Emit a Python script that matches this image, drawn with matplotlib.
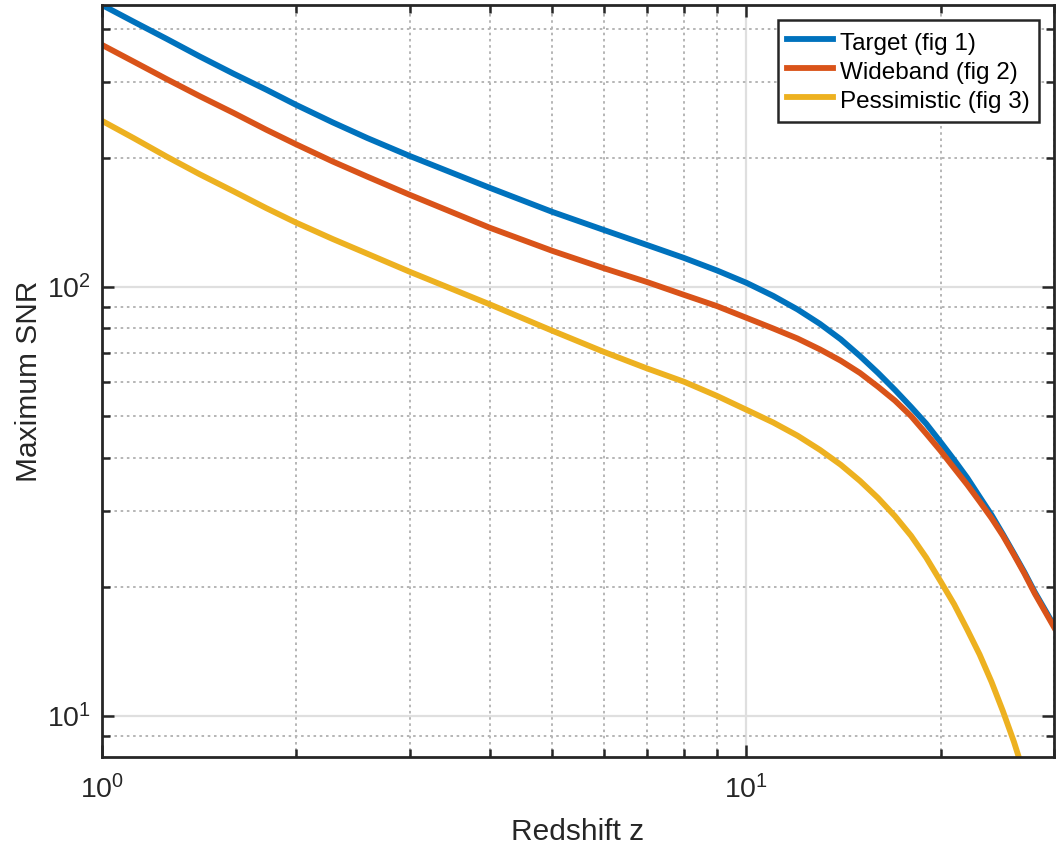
import numpy as np
import matplotlib.pyplot as plt
from matplotlib.ticker import NullFormatter

plt.rcParams['font.family'] = ['Liberation Sans', 'DejaVu Sans']
plt.rcParams['mathtext.fontset'] = 'custom'
plt.rcParams['mathtext.rm'] = 'Liberation Sans'
plt.rcParams['mathtext.it'] = 'Liberation Sans:italic'

# redshift samples and peak SNR for each detector configuration
z = [1, 1.12, 1.26, 1.42, 1.6, 1.8, 2, 2.28, 2.58, 3, 4, 5, 6, 7, 8, 9, 10,
     11, 12, 13, 14, 15, 16, 17, 18, 19, 20, 21, 22, 23, 24, 25, 26, 27, 28, 29, 30]
snr_target = [454, 415, 378.5, 344, 314, 288, 265.7, 241.8, 222.3, 202, 170.1,
              149.5, 135.8, 125.3, 116.8, 109.2, 102.2,
              95.3, 88.6, 82.0, 75.5, 69, 63, 57.5, 52.5, 48, 43.5, 39.5, 35.9,
              32.4, 29.4, 26.5, 23.9, 21.6, 19.45, 17.75, 16.25]
snr_wideband = [366.5, 335, 305, 278, 254.4, 232.3, 215, 196, 180.7, 164, 137.3,
                121.3, 110.6, 102.7, 95.8, 90.2, 84.7,
                80, 75.8, 71.5, 67.3, 63, 58.5, 54.3, 50, 45.5, 41.5, 37.8, 34.6,
                31.6, 28.9, 26.3, 23.75, 21.45, 19.3, 17.6, 16.1]

z_pess = [1, 1.12, 1.26, 1.42, 1.6, 1.8, 2, 2.28, 2.58, 3, 4, 5, 6, 7, 8, 9, 10,
          11, 12, 13, 14, 15, 16, 17, 18, 19, 20, 21, 22, 23, 24, 25, 26, 26.45]
snr_pess = [243.8, 222.2, 201.2, 182.8, 167.0, 152.5, 141.2, 129.3, 119.5, 108.5,
            91.0, 79.0, 70.6, 64.6, 60.1, 55.7, 51.7,
            48.3, 45, 41.7, 38.5, 35.3, 32.2, 29.2, 26.3, 23.4, 20.6, 18.2, 15.9,
            13.9, 12.0, 10.25, 8.7, 8.02]

labels = ['Target (fig 1)', 'Wideband (fig 2)', 'Pessimistic (fig 3)']
colors = ['#0072BD', '#D95319', '#EDB120']
dark = '#262626'

fig = plt.figure(figsize=(10.56, 8.5), dpi=100)
ax = fig.add_axes([102/1056, 93/850, 952/1056, 752/850])

ax.loglog(z, snr_target, color=colors[0], lw=4.2, label=labels[0])
ax.loglog(z, snr_wideband, color=colors[1], lw=4.2, label=labels[1])
ax.loglog(z_pess, snr_pess, color=colors[2], lw=4.2, label=labels[2])

ax.set_xlim(1, 30)
ax.set_ylim(8.02, 454)

ax.set_axisbelow(True)
ax.grid(True, which='major', color='#dfdfdf', lw=1.6, ls='-')
ax.grid(True, which='minor', color='#b5b5b5', lw=1.4, ls=(0, (1.3, 1.9)))

ax.xaxis.set_minor_formatter(NullFormatter())
ax.yaxis.set_minor_formatter(NullFormatter())
ax.tick_params(which='both', direction='in', top=True, right=True,
               width=1.8, color=dark, labelcolor=dark, labelsize=20.5)
ax.tick_params(which='major', length=8.5)
ax.tick_params(which='minor', length=5.5)
ax.tick_params(axis='x', pad=13)
ax.tick_params(axis='y', pad=8)
for s in ax.spines.values():
    s.set_linewidth(2.0)
    s.set_color(dark)

ax.set_xlabel('Redshift z', fontsize=21.5, color=dark, labelpad=10)
ax.set_ylabel('Maximum SNR', fontsize=21.5, color=dark, labelpad=3)

leg = ax.legend(loc='upper right', bbox_to_anchor=(1039/1056, 1 - 20/850),
                bbox_transform=fig.transFigure, borderaxespad=0,
                fontsize=17.5, fancybox=False, framealpha=1, edgecolor=dark,
                handlelength=1.9, handletextpad=0.3, handleheight=1.2,
                labelspacing=0.14, borderpad=0.37)
leg.get_frame().set_linewidth(1.8)

fig.savefig('out.png', dpi=100)
